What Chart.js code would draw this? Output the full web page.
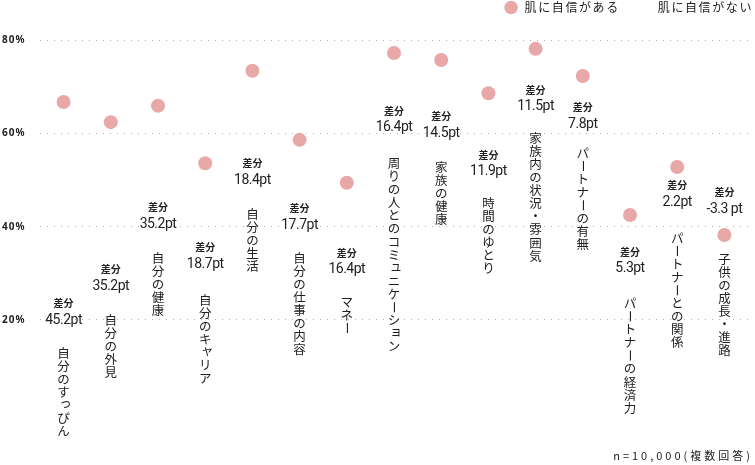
<!DOCTYPE html>
<html lang="ja">
<head>
<meta charset="utf-8">
<script src="https://cdn.jsdelivr.net/npm/chart.js@4/dist/chart.umd.min.js"></script>
<style>
  html, body { margin: 0; padding: 0; background: #fff; }
  #wrap { width: 755px; height: 465px; }
</style>
</head>
<body>
<div id="wrap"><canvas id="chart" width="755" height="465"></canvas></div>
<script>
// データ
const categories = [
  "自分のすっぴん", "自分の外見", "自分の健康", "自分のキャリア", "自分の生活",
  "自分の仕事の内容", "マネー", "周りの人とのコミュニケーション", "家族の健康", "時間のゆとり",
  "家族内の状況・雰囲気", "パートナーの有無", "パートナーの経済力", "パートナーとの関係", "子供の成長・進路"
];
const confident = [66.7, 62.4, 65.9, 53.6, 73.4, 58.6, 49.4, 77.2, 75.7, 68.6, 78.1, 72.3, 42.5, 52.8, 38.2];
const notConfident = [21.5, 27.2, 30.7, 34.9, 55.0, 40.9, 33.0, 60.8, 61.2, 56.7, 66.6, 64.5, 37.2, 50.6, 41.5];
const diffText = [
  "45.2pt", "35.2pt", "35.2pt", "18.7pt", "18.4pt", "17.7pt", "16.4pt", "16.4pt",
  "14.5pt", "11.9pt", "11.5pt", "7.8pt", "5.3pt", "2.2pt", "-3.3 pt"
];
const tickValues = [20, 40, 60, 80];
const seriesNames = ["肌に自信がある", "肌に自信がない"];
const footnote = "n=10,000(複数回答)";

// 注記の位置 (y軸の%単位)
const noteAt = [23.6, 30.9, 44.2, 35.6, 53.6, 44.0, 34.4, 64.8, 63.7, 55.4, 69.3, 65.6, 34.6, 48.9, 47.4];
const labelAt = [12.9, 20.0, 33.3, 24.3, 42.7, 33.3, 23.9, 53.6, 52.8, 45.1, 59.0, 55.8, 23.6, 37.6, 33.1];

const pink = "#e9a8a8";
const ink = "#222";
const smallKana = "ぁぃぅぇぉっゃゅょァィゥェォッャュョ";

// 縦書きの1文字
const drawVertChar = (ctx, ch, x, y) => {
  if (ch === "ー") {
    ctx.save();
    ctx.translate(x, y);
    ctx.rotate(Math.PI / 2);
    ctx.fillText(ch, 0, 0);
    ctx.restore();
  } else if (smallKana.includes(ch)) {
    ctx.fillText(ch, x + 2, y - 2);
  } else {
    ctx.fillText(ch, x, y);
  }
};

const notesPlugin = {
  id: "notes",
  beforeDraw(chart) {
    chart.ctx.letterSpacing = "1px";
  },
  afterDatasetsDraw(chart) {
    const { ctx, scales: { x, y } } = chart;
    ctx.save();
    ctx.fillStyle = ink;
    ctx.textAlign = "center";
    ctx.textBaseline = "middle";
    categories.forEach((cat, i) => {
      const px = x.getPixelForValue(i);
      const ny = y.getPixelForValue(noteAt[i]);
      ctx.letterSpacing = "0px";
      ctx.font = 'bold 10px "Noto Sans CJK JP"';
      ctx.fillText("差分", px, ny);
      ctx.letterSpacing = "-0.5px";
      ctx.font = "14px Roboto";
      ctx.fillText(diffText[i], px, ny + 17);
      ctx.letterSpacing = "0px";
      ctx.font = '12.5px "Noto Sans CJK JP"';
      const ly = y.getPixelForValue(labelAt[i]);
      [...cat].forEach((ch, k) => drawVertChar(ctx, ch, px, ly + k * 13.1));
    });
    ctx.restore();
  },
  afterDraw(chart) {
    const { ctx, chartArea } = chart;
    ctx.save();
    ctx.fillStyle = ink;
    ctx.textBaseline = "middle";
    ctx.textAlign = "left";

    // 凡例
    ctx.font = '12px "Noto Sans CJK JP"';
    ctx.letterSpacing = "1.6px";
    const w1 = ctx.measureText(seriesNames[0]).width;
    const w2 = ctx.measureText(seriesNames[1]).width;
    const x2 = chartArea.right + 5 - w2;
    const x1 = x2 - 38 - w1;
    ctx.fillText(seriesNames[1], x2, 7.5);
    ctx.fillText(seriesNames[0], x1, 7.5);
    ctx.fillStyle = pink;
    ctx.beginPath();
    ctx.arc(x1 - 13.5, 7.5, 6.8, 0, Math.PI * 2);
    ctx.fill();

    // 注記
    ctx.fillStyle = ink;
    ctx.font = '11px "Noto Sans CJK JP"';
    ctx.letterSpacing = "3px";
    ctx.textAlign = "right";
    ctx.fillText(footnote, chartArea.right + 5, 456);
    ctx.restore();
  }
};

const ctx = document.getElementById("chart").getContext("2d");
const chart = new Chart(ctx, {
  type: "line",
  data: {
    labels: categories,
    datasets: [
      {
        label: seriesNames[0],
        data: confident,
        showLine: false,
        pointRadius: 7,
        pointHoverRadius: 7,
        pointBorderWidth: 0,
        pointBackgroundColor: pink,
        borderColor: pink,
      },
      {
        label: seriesNames[1],
        data: notConfident,
        showLine: false,
        pointRadius: 7,
        pointHoverRadius: 7,
        pointBorderWidth: 0,
        pointBackgroundColor: "rgba(255,255,255,0)",
        borderColor: "rgba(255,255,255,0)",
      },
    ],
  },
  options: {
    responsive: false,
    animation: false,
    devicePixelRatio: 1,
    layout: { padding: { top: 16.67, bottom: 51.67, left: 2, right: 7 } },
    plugins: {
      legend: { display: false },
      tooltip: { enabled: false },
    },
    scales: {
      x: { display: false, offset: true },
      y: {
        min: 0,
        max: 85,
        afterFit: (scale) => { scale.width = 38; },
        afterBuildTicks: (scale) => { scale.ticks = tickValues.map((v) => ({ value: v })); },
        ticks: {
          callback: (v) => v + "%",
          font: { family: "Noto Sans", weight: "bold", size: 10 },
          color: ink,
          crossAlign: "far",
          padding: 0,
        },
        grid: { color: "#b0b0b0", drawTicks: false, lineWidth: 1 },
        border: { display: false, dash: [1, 6] },
      },
    },
  },
  plugins: [notesPlugin],
});
</script>
</body>
</html>
